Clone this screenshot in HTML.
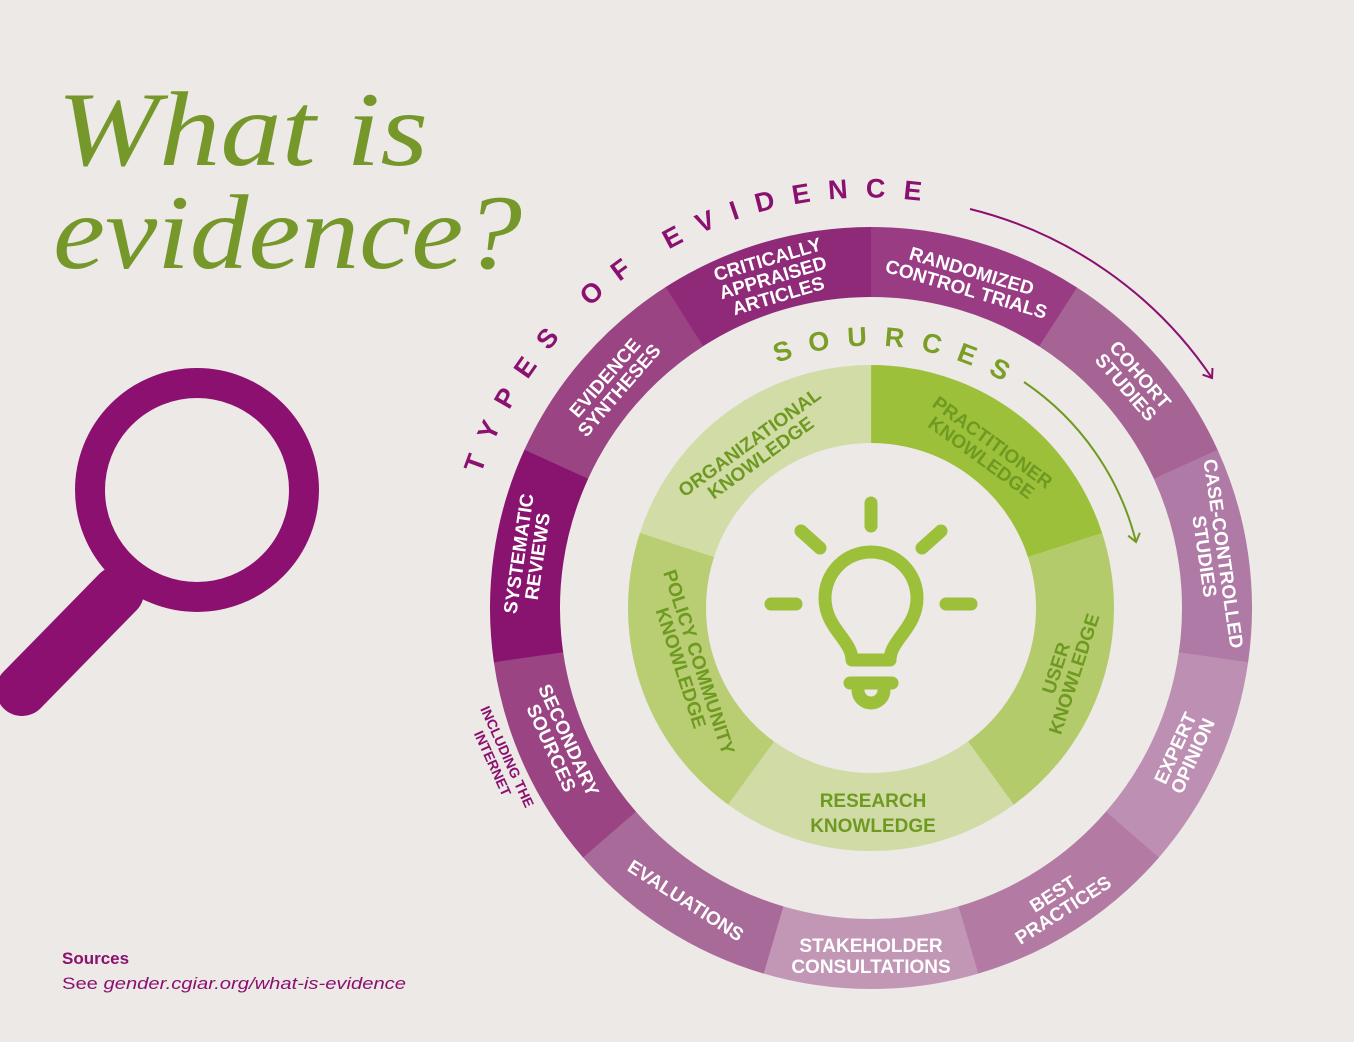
<!DOCTYPE html>
<html><head><meta charset="utf-8"><style>
html,body{margin:0;background:#ece9e6;width:1354px;height:1042px;overflow:hidden;}
svg{display:block}
.o{font-family:"Liberation Sans",sans-serif;font-weight:bold;font-size:19px;fill:#fff;text-anchor:middle}
.g{font-family:"Liberation Sans",sans-serif;font-weight:bold;font-size:19px;fill:#6f9a22;text-anchor:middle}
</style></head><body>
<svg width="1354" height="1042" viewBox="0 0 1354 1042" xmlns="http://www.w3.org/2000/svg">
<defs>
<marker id="ap" markerWidth="14" markerHeight="14" refX="10" refY="7" orient="auto" markerUnits="userSpaceOnUse"><path d="M2,1 L10,7 L2,13" fill="none" stroke="#8b1070" stroke-width="2"/></marker>
<marker id="ag" markerWidth="14" markerHeight="14" refX="10" refY="7" orient="auto" markerUnits="userSpaceOnUse"><path d="M2,1 L10,7 L2,13" fill="none" stroke="#6f9a22" stroke-width="2"/></marker>
<path id="tp" d="M481,474 A410,410 0 0 1 1011,223" fill="none"/>
<path id="sp" d="M777,363 A262,262 0 0 1 1021,393" fill="none"/>
</defs>
<rect width="1354" height="1042" fill="#ece9e6"/>
<text x="57" y="165" font-family="Liberation Serif,serif" font-style="italic" font-size="106" fill="#76982b" textLength="371" lengthAdjust="spacingAndGlyphs">What is</text>
<text x="53" y="268" font-family="Liberation Serif,serif" font-style="italic" font-size="106" fill="#76982b" textLength="469" lengthAdjust="spacingAndGlyphs">evidence?</text>
<!-- magnifier -->
<circle cx="197" cy="490" r="107" fill="none" stroke="#8b1070" stroke-width="30"/>
<line x1="118" y1="592" x2="22" y2="690" stroke="#8b1070" stroke-width="52" stroke-linecap="round"/>
<text x="62" y="964" font-family="Liberation Sans,sans-serif" font-weight="bold" font-size="17" fill="#8b1070">Sources</text>
<text x="62" y="989" font-family="Liberation Sans,sans-serif" font-size="17" fill="#8b1070" textLength="344" lengthAdjust="spacingAndGlyphs">See <tspan font-style="italic">gender.cgiar.org/what-is-evidence</tspan></text>
<!-- outer ring -->
<g fill="none" stroke-width="70" stroke-dasharray="198.2 3000">
<circle cx="871" cy="608" r="346" stroke="#8e2a78" transform="rotate(-122.73 871 608)"/>
<circle cx="871" cy="608" r="346" stroke="#9a3c84" transform="rotate(-90 871 608)"/>
<circle cx="871" cy="608" r="346" stroke="#a66495" transform="rotate(-57.27 871 608)"/>
<circle cx="871" cy="608" r="346" stroke="#b07aa6" transform="rotate(-24.55 871 608)"/>
<circle cx="871" cy="608" r="346" stroke="#bd90b3" transform="rotate(8.18 871 608)"/>
<circle cx="871" cy="608" r="346" stroke="#b37aa4" transform="rotate(40.91 871 608)"/>
<circle cx="871" cy="608" r="346" stroke="#c297b6" transform="rotate(73.64 871 608)"/>
<circle cx="871" cy="608" r="346" stroke="#a86a98" transform="rotate(106.36 871 608)"/>
<circle cx="871" cy="608" r="346" stroke="#9a4483" transform="rotate(139.09 871 608)"/>
<circle cx="871" cy="608" r="346" stroke="#891470" transform="rotate(171.82 871 608)"/>
<circle cx="871" cy="608" r="346" stroke="#9a4483" transform="rotate(204.55 871 608)"/>
</g>
<!-- green ring -->
<g fill="none" stroke-width="78" stroke-dasharray="256.4 3000">
<circle cx="871" cy="608" r="204" stroke="#9dc03b" transform="rotate(-90 871 608)"/>
<circle cx="871" cy="608" r="204" stroke="#b4cb6c" transform="rotate(-18 871 608)"/>
<circle cx="871" cy="608" r="204" stroke="#d1dba5" transform="rotate(54 871 608)"/>
<circle cx="871" cy="608" r="204" stroke="#b9ce72" transform="rotate(126 871 608)"/>
<circle cx="871" cy="608" r="204" stroke="#d2dca7" transform="rotate(198 871 608)"/>
</g>
<!-- outer labels -->
<g class="o">
<text transform="translate(773,278) rotate(-16.4)"><tspan x="0" y="-13">CRITICALLY</tspan><tspan x="0" y="6">APPRAISED</tspan><tspan x="0" y="25">ARTICLES</tspan></text>
<text transform="translate(969,280) rotate(16.4)"><tspan x="0" y="-3">RANDOMIZED</tspan><tspan x="0" y="16">CONTROL TRIALS</tspan></text>
<text transform="translate(1133,381) rotate(49.1)"><tspan x="0" y="-3">COHORT</tspan><tspan x="0" y="16">STUDIES</tspan></text>
<text transform="translate(1214,555) rotate(81.8)"><tspan x="0" y="-3">CASE-CONTROLLED</tspan><tspan x="0" y="16">STUDIES</tspan></text>
<text transform="translate(1184,752) rotate(-65.5)"><tspan x="0" y="-3">EXPERT</tspan><tspan x="0" y="16">OPINION</tspan></text>
<text transform="translate(1058,902) rotate(-32.7)"><tspan x="0" y="-3">BEST</tspan><tspan x="0" y="16">PRACTICES</tspan></text>
<text transform="translate(871,955)"><tspan x="0" y="-3">STAKEHOLDER</tspan><tspan x="0" y="18">CONSULTATIONS</tspan></text>
<text transform="translate(686,900) rotate(32.7)"><tspan x="0" y="7">EVALUATIONS</tspan></text>
<text transform="translate(560,744) rotate(65.5)"><tspan x="0" y="-3">SECONDARY</tspan><tspan x="0" y="16">SOURCES</tspan></text>
<text transform="translate(528,555) rotate(-81.8)"><tspan x="0" y="-3">SYSTEMATIC</tspan><tspan x="0" y="16">REVIEWS</tspan></text>
<text transform="translate(612,384) rotate(-49.1)"><tspan x="0" y="-3">EVIDENCE</tspan><tspan x="0" y="16">SYNTHESES</tspan></text>
</g>
<text transform="translate(500,760) rotate(65.5)" font-family="Liberation Sans,sans-serif" font-weight="bold" font-size="14" fill="#8b1070" text-anchor="middle"><tspan x="0" y="-3">INCLUDING THE</tspan><tspan x="0" y="13">INTERNET</tspan></text>
<!-- green labels -->
<g class="g">
<text transform="translate(987,450) rotate(36)"><tspan x="0" y="-3">PRACTITIONER</tspan><tspan x="0" y="16">KNOWLEDGE</tspan></text>
<text transform="translate(1065,671) rotate(-72)"><tspan x="0" y="-3">USER</tspan><tspan x="0" y="16">KNOWLEDGE</tspan></text>
<text transform="translate(873,810)"><tspan x="0" y="-3">RESEARCH</tspan><tspan x="0" y="22">KNOWLEDGE</tspan></text>
<text transform="translate(690,665) rotate(72)"><tspan x="0" y="-3">POLICY COMMUNITY</tspan><tspan x="0" y="16">KNOWLEDGE</tspan></text>
<text transform="translate(755,450) rotate(-36)"><tspan x="0" y="-3">ORGANIZATIONAL</tspan><tspan x="0" y="16">KNOWLEDGE</tspan></text>
</g>
<!-- curved titles -->
<text font-family="Liberation Sans,sans-serif" font-weight="bold" font-size="27" fill="#8b1070"><textPath href="#tp" textLength="560" lengthAdjust="spacing">TYPES OF EVIDENCE</textPath></text>
<text font-family="Liberation Sans,sans-serif" font-weight="bold" font-size="27" fill="#7a9e26"><textPath href="#sp" textLength="235" lengthAdjust="spacing">SOURCES</textPath></text>
<path d="M970,209 A411,411 0 0 1 1212,378" fill="none" stroke="#8b1070" stroke-width="2" marker-end="url(#ap)"/>
<path d="M1024,382 A273,273 0 0 1 1136,542" fill="none" stroke="#6f9a22" stroke-width="2" marker-end="url(#ag)"/>
<!-- bulb -->
<g fill="none" stroke="#9dc03b" stroke-width="13" stroke-linecap="round">
<line x1="871" y1="503" x2="871" y2="526"/>
<line x1="801" y1="531" x2="820" y2="548"/>
<line x1="941" y1="531" x2="922" y2="548"/>
<line x1="771" y1="604" x2="796" y2="604"/>
<line x1="946" y1="604" x2="971" y2="604"/>
<path d="M852,660 C852,640 825,628 825,598 A46,46 0 0 1 917,598 C917,628 890,640 890,660 Z" stroke-linejoin="round"/>
<line x1="850" y1="683" x2="892" y2="683"/>
<path d="M858,690 A13,13 0 0 0 884,690"/>
</g>
</svg>
</body></html>
